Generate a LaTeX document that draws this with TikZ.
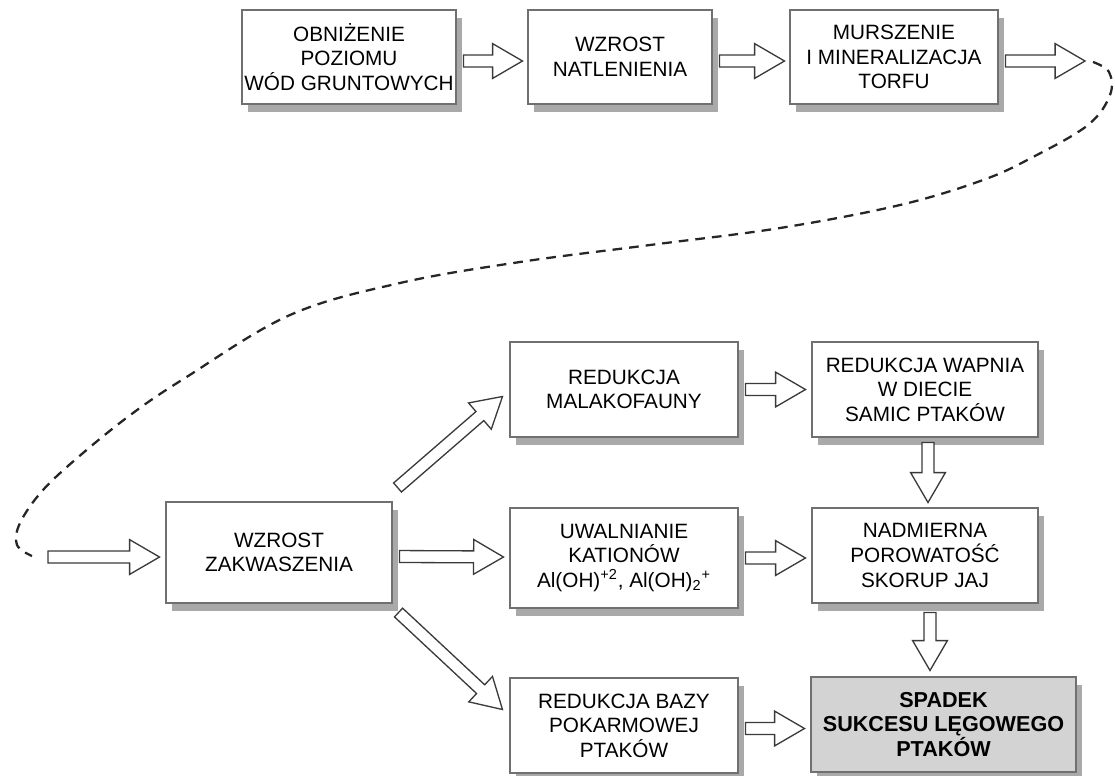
\documentclass[tikz,border=0pt]{standalone}
\usepackage{fontspec}
\setmainfont{Liberation Sans}
\usetikzlibrary{calc,shadows}
\definecolor{boxline}{HTML}{707070}
\definecolor{shadowc}{HTML}{A9A9A9}
\definecolor{arrowline}{HTML}{3A3A3A}
\definecolor{spadekfill}{HTML}{D3D3D3}
\tikzset{
  box/.style 2 args={draw=boxline, line width=0.6pt, fill=white, align=center,
    font=\fontsize{11.8}{14}\selectfont, inner sep=0pt,
    minimum width=#1*0.02cm, minimum height=#2*0.02cm,
    drop shadow={shadow xshift=3.4pt, shadow yshift=-4.3pt, opacity=1, fill=shadowc}},
  barrow/.style={draw=arrowline, line width=0.75pt, fill=white, line join=miter},
  dashcurve/.style={draw=black!85, line width=1.3pt, dash pattern=on 5.5pt off 4pt},
}
\newcommand\blockarrow[2]{%
  \coordinate (ta) at #1;
  \coordinate (he) at #2;
  \coordinate (ba) at ($(he)!17pt!(ta)$);
  \draw[barrow] ($(ta)!3.4pt!90:(he)$) -- ($(ba)!3.4pt!90:(he)$) -- ($(ba)!9.9pt!90:(he)$)
    -- (he) -- ($(ba)!9.9pt!-90:(he)$) -- ($(ba)!3.4pt!-90:(he)$) -- ($(ta)!3.4pt!-90:(he)$) -- cycle;
}
\begin{document}
\begin{tikzpicture}[x=0.02cm, y=-0.02cm]
\useasboundingbox (0,0) rectangle (1115,775);

% top row
\node[box={214}{94}] (obn) at (349,57) {OBNIŻENIE\\POZIOMU\\WÓD GRUNTOWYCH};
\node[box={184}{94}] (wzn) at (620,57) {WZROST\\NATLENIENIA};
\node[box={208}{94}] (mur) at (894,57) {MURSZENIE\\I MINERALIZACJA\\TORFU};

% bottom part
\node[box={226}{101}] (zak) at (279,552.5) {WZROST\\ZAKWASZENIA};
\node[box={228}{95}] (mal) at (624,389.5) {REDUKCJA\\MALAKOFAUNY};
\node[box={226}{95}] (wap) at (925,389.5) {REDUKCJA WAPNIA\\W DIECIE\\SAMIC PTAKÓW};
\node[box={228}{100}] (uwa) at (624,558) {UWALNIANIE\\KATIONÓW\\Al(OH)\textsuperscript{+2}, Al(OH)\textsubscript{2}\textsuperscript{+}};
\node[box={226}{95}] (nad) at (925,555.5) {NADMIERNA\\POROWATOŚĆ\\SKORUP JAJ};
\node[box={228}{95}] (baz) at (624,725.5) {REDUKCJA BAZY\\POKARMOWEJ\\PTAKÓW};
\node[box={265}{95}, fill=spadekfill, font=\fontsize{12.3}{14.2}\selectfont\bfseries] (spa) at (943.5,724.5) {SPADEK\\SUKCESU LĘGOWEGO\\PTAKÓW};

% top arrows
\blockarrow{($(obn.east)+(7,4)$)}{($(wzn.west)+(-5,4)$)}
\blockarrow{($(wzn.east)+(7,4)$)}{($(mur.west)+(-5,4)$)}
\coordinate (ce) at (1085,61);
\blockarrow{($(mur.east)+(7,4)$)}{(ce)}

% dashed connection
\coordinate (cs) at (1093,62);
\coordinate (le) at (32,556);
\draw[dashcurve] plot[smooth, tension=0.6] coordinates {(cs) (1109,72) (1110,95) (1088,125) (1033,157) (983,180) (900,205) (780,228) (650,245) (520,262) (400,283) (290,315) (185,378) (133,413) (83,453) (43,490) (20,523) (17,545) (le)};
\coordinate (lt) at (48,557);
\blockarrow{(lt)}{($(zak.west)+(-6,4.5)$)}

% from zak
\blockarrow{($(zak.north east)+(5,-14)$)}{($(mal.west)+(-7,7)$)}
\blockarrow{($(zak.east)+(7,4)$)}{($(uwa.west)+(-6,-1)$)}
\blockarrow{($(zak.south east)+(6,9)$)}{($(baz.west)+(-7,-16)$)}

% horizontal right
\blockarrow{($(mal.east)+(7,0)$)}{($(wap.west)+(-6,0)$)}
\blockarrow{($(uwa.east)+(7,0)$)}{($(uwa.east -| nad.west)+(-6,0)$)}
\blockarrow{($(baz.east)+(7,3)$)}{($(baz.east -| spa.west)+(-6,3)$)}

% vertical
\blockarrow{($(wap.south)+(3,5)$)}{($(nad.north)+(3,-5)$)}
\blockarrow{($(nad.south)+(5,9)$)}{($(nad.south |- spa.north)+(5,-6)$)}
\end{tikzpicture}
\end{document}
